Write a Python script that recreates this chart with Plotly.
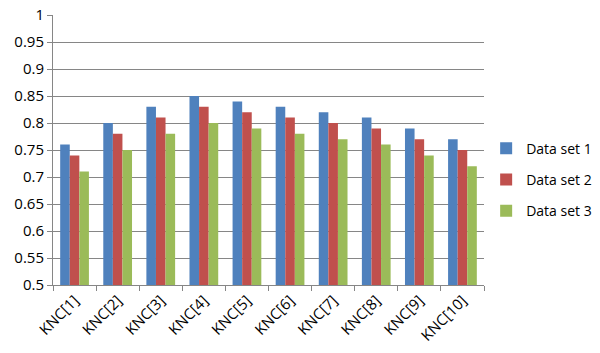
import plotly.graph_objects as go

categories = ["KNC[1]", "KNC[2]", "KNC[3]", "KNC[4]", "KNC[5]",
              "KNC[6]", "KNC[7]", "KNC[8]", "KNC[9]", "KNC[10]"]
set1 = [0.76, 0.80, 0.83, 0.85, 0.84, 0.83, 0.82, 0.81, 0.79, 0.77]
set2 = [0.74, 0.78, 0.81, 0.83, 0.82, 0.81, 0.80, 0.79, 0.77, 0.75]
set3 = [0.71, 0.75, 0.78, 0.80, 0.79, 0.78, 0.77, 0.76, 0.74, 0.72]
series_names = ["Data set 1", "Data set 2", "Data set 3"]
colors = ["#4F81BD", "#C0504D", "#9BBB59"]
y_ticks = [0.5, 0.55, 0.6, 0.65, 0.7, 0.75, 0.8, 0.85, 0.9, 0.95, 1.0]
y_ticktext = ["0.5", "0.55", "0.6", "0.65", "0.7", "0.75", "0.8", "0.85", "0.9", "0.95", "1"]

fig = go.Figure()
for name, vals, c in zip(series_names, [set1, set2, set3], colors):
    fig.add_trace(go.Bar(x=categories, y=vals, name=name, marker_color=c,
                         marker_line_width=0, legendgroup=name))

fam = "Open Sans, DejaVu Sans, sans-serif"
fig.update_layout(
    width=600, height=353,
    margin=dict(l=53, r=116, t=15, b=68, autoexpand=False),
    paper_bgcolor="white", plot_bgcolor="white",
    barmode="group", bargap=0.333, bargroupgap=0,
    font=dict(family=fam, size=15, color="#000000"),
    showlegend=True,
    legend=dict(x=1.005, y=0.39, xanchor="left", yanchor="middle",
                font=dict(family=fam, size=14),
                tracegroupgap=10, itemwidth=30, bgcolor="rgba(0,0,0,0)"),
    xaxis=dict(tickangle=-45, showline=True, linecolor="#868686", linewidth=1,
               ticks="outside", tickson="boundaries", ticklen=5, tickcolor="#868686",
               showgrid=False, tickfont=dict(size=15), automargin=False),
    yaxis=dict(range=[0.5, 1.0], tickvals=y_ticks, ticktext=y_ticktext,
               showline=True, linecolor="#868686", linewidth=1,
               ticks="outside", ticklen=5, tickcolor="#868686",
               showgrid=True, gridcolor="#868686", gridwidth=1,
               zeroline=False, tickfont=dict(size=15), automargin=False),
)
fig.write_html("out.html")
